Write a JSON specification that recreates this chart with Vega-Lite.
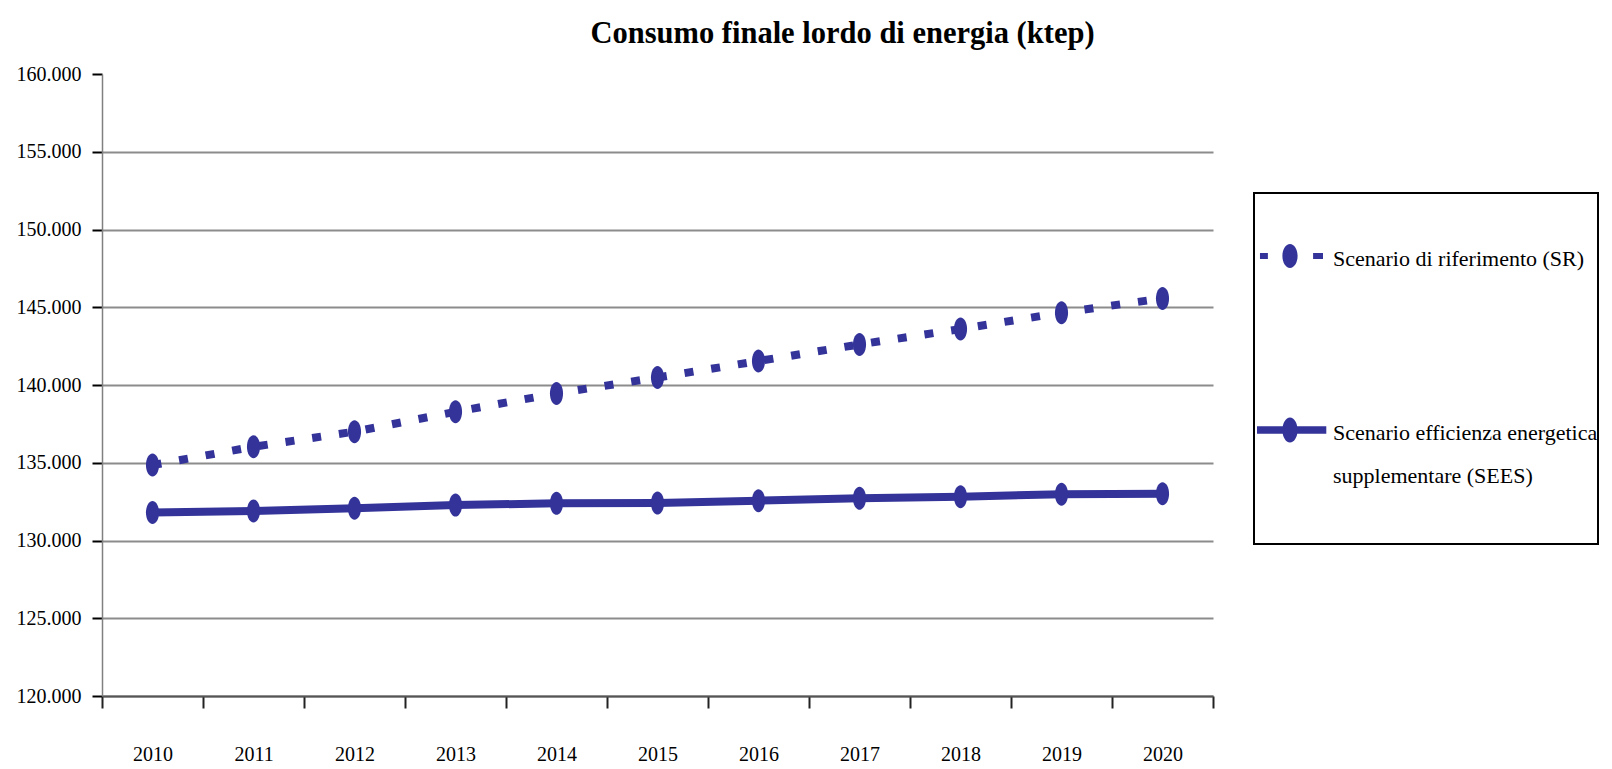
{
  "$schema": "https://vega.github.io/schema/vega-lite/v6.json",
  "width": 1111,
  "height": 622,
  "autosize": {"type": "none"},
  "padding": {"left": 102, "top": 74, "right": 399, "bottom": 73},
  "background": "white",
  "config": {"view": {"stroke": null}, "font": "Liberation Serif"},
  "title": {
    "text": "Consumo finale lordo di energia (ktep)",
    "font": "Liberation Serif",
    "fontSize": 30.5,
    "fontWeight": "bold",
    "color": "black",
    "anchor": "middle",
    "frame": "group",
    "dx": 185,
    "offset": 15
  },
  "data": {
    "values": [
      {"anno": "2010", "scenario": "SR", "valore": 134850},
      {"anno": "2011", "scenario": "SR", "valore": 136030},
      {"anno": "2012", "scenario": "SR", "valore": 137000},
      {"anno": "2013", "scenario": "SR", "valore": 138280},
      {"anno": "2014", "scenario": "SR", "valore": 139460},
      {"anno": "2015", "scenario": "SR", "valore": 140480},
      {"anno": "2016", "scenario": "SR", "valore": 141540},
      {"anno": "2017", "scenario": "SR", "valore": 142610},
      {"anno": "2018", "scenario": "SR", "valore": 143600},
      {"anno": "2019", "scenario": "SR", "valore": 144650},
      {"anno": "2020", "scenario": "SR", "valore": 145570},
      {"anno": "2010", "scenario": "SEES", "valore": 131800},
      {"anno": "2011", "scenario": "SEES", "valore": 131900},
      {"anno": "2012", "scenario": "SEES", "valore": 132070},
      {"anno": "2013", "scenario": "SEES", "valore": 132280},
      {"anno": "2014", "scenario": "SEES", "valore": 132390},
      {"anno": "2015", "scenario": "SEES", "valore": 132410},
      {"anno": "2016", "scenario": "SEES", "valore": 132560},
      {"anno": "2017", "scenario": "SEES", "valore": 132710},
      {"anno": "2018", "scenario": "SEES", "valore": 132820},
      {"anno": "2019", "scenario": "SEES", "valore": 132970},
      {"anno": "2020", "scenario": "SEES", "valore": 133000}
    ]
  },
  "encoding": {
    "x": {
      "field": "anno",
      "type": "ordinal",
      "scale": {"paddingInner": 0, "paddingOuter": 0},
      "axis": {
        "title": null,
        "labelAngle": 0,
        "tickBand": "extent",
        "tickSize": 12,
        "tickWidth": 2,
        "tickColor": "#222222",
        "domainColor": "#555555",
        "domainWidth": 2,
        "labelFont": "Liberation Serif",
        "labelFontSize": 20,
        "labelColor": "black",
        "labelPadding": 36,
        "grid": false
      }
    },
    "y": {
      "field": "valore",
      "type": "quantitative",
      "scale": {"domain": [120000, 160000], "nice": false, "zero": false},
      "axis": {
        "title": null,
        "values": [120000, 125000, 130000, 135000, 140000, 145000, 150000, 155000, 160000],
        "labelExpr": "replace(format(datum.value, ','), ',', '.')",
        "labelFont": "Liberation Serif",
        "labelFontSize": 20,
        "labelColor": "black",
        "labelPadding": 11,
        "tickSize": 10,
        "tickColor": "black",
        "tickWidth": 2,
        "domainColor": "#808080",
        "domainWidth": 1.5,
        "grid": true,
        "gridColor": "#8c8c8c",
        "gridWidth": 2,
        "gridOpacity": {"condition": {"test": "datum.value >= 160000", "value": 0}, "value": 1}
      }
    },
    "color": {
      "field": "scenario",
      "type": "nominal",
      "scale": {"domain": ["SR", "SEES"], "range": ["#333399", "#333399"]},
      "legend": {
        "orient": "none",
        "legendX": 1152,
        "legendY": 119,
        "title": " ",
        "titleFontSize": 20,
        "titlePadding": 10,
        "padding": 0,
        "labelFont": "Liberation Serif",
        "labelFontSize": 22,
        "labelColor": "black",
        "labelLimit": 400,
        "labelOffset": 10,
        "symbolOffset": 3,
        "symbolSize": 4356,
        "symbolStrokeWidth": 6,
        "rowPadding": 127,
        "labelExpr": "datum.value == 'SR' ? 'Scenario di riferimento (SR)' : ['Scenario efficienza energetica', 'supplementare  (SEES)']",
        "encode": {
          "legend": {"update": {"stroke": {"value": "black"}, "strokeWidth": {"value": 2}}},
          "symbols": {
            "update": {
              "shape": {"signal": "datum.value == 'SR' ? 'M-0.91,-0.09H-0.67V0.09H-0.91ZM0.7,-0.09H1V0.09H0.7ZM0.23,0A0.23,0.36 0 1,1 -0.23,0A0.23,0.36 0 1,1 0.23,0Z' : 'M-1,-0.11H1.1V0.11H-1ZM0.23,0A0.23,0.38 0 1,1 -0.23,0A0.23,0.38 0 1,1 0.23,0ZM0,3.45'"},
              "fill": {"value": "#333399"},
              "fillOpacity": {"value": 1},
              "stroke": {"value": "#333399"},
              "strokeWidth": {"value": 0},
              "opacity": {"value": 1}
            }
          },
          "labels": {
            "update": {
              "baseline": {"value": "top"},
              "dy": {"value": -7},
              "lineHeight": {"value": 43}
            }
          }
        }
      }
    }
  },
  "layer": [
    {
      "transform": [{"filter": "datum.scenario == 'SR'"}],
      "mark": {"type": "line", "strokeWidth": 8, "strokeCap": "butt", "strokeDash": [9, 18]}
    },
    {
      "transform": [{"filter": "datum.scenario == 'SEES'"}],
      "mark": {"type": "line", "strokeWidth": 8, "strokeCap": "butt"}
    },
    {
      "mark": {
        "type": "point",
        "filled": true,
        "shape": "M0,-1A0.57,1 0 1,1 0,1A0.57,1 0 1,1 0,-1Z",
        "size": 529,
        "opacity": 1
      }
    }
  ]
}
